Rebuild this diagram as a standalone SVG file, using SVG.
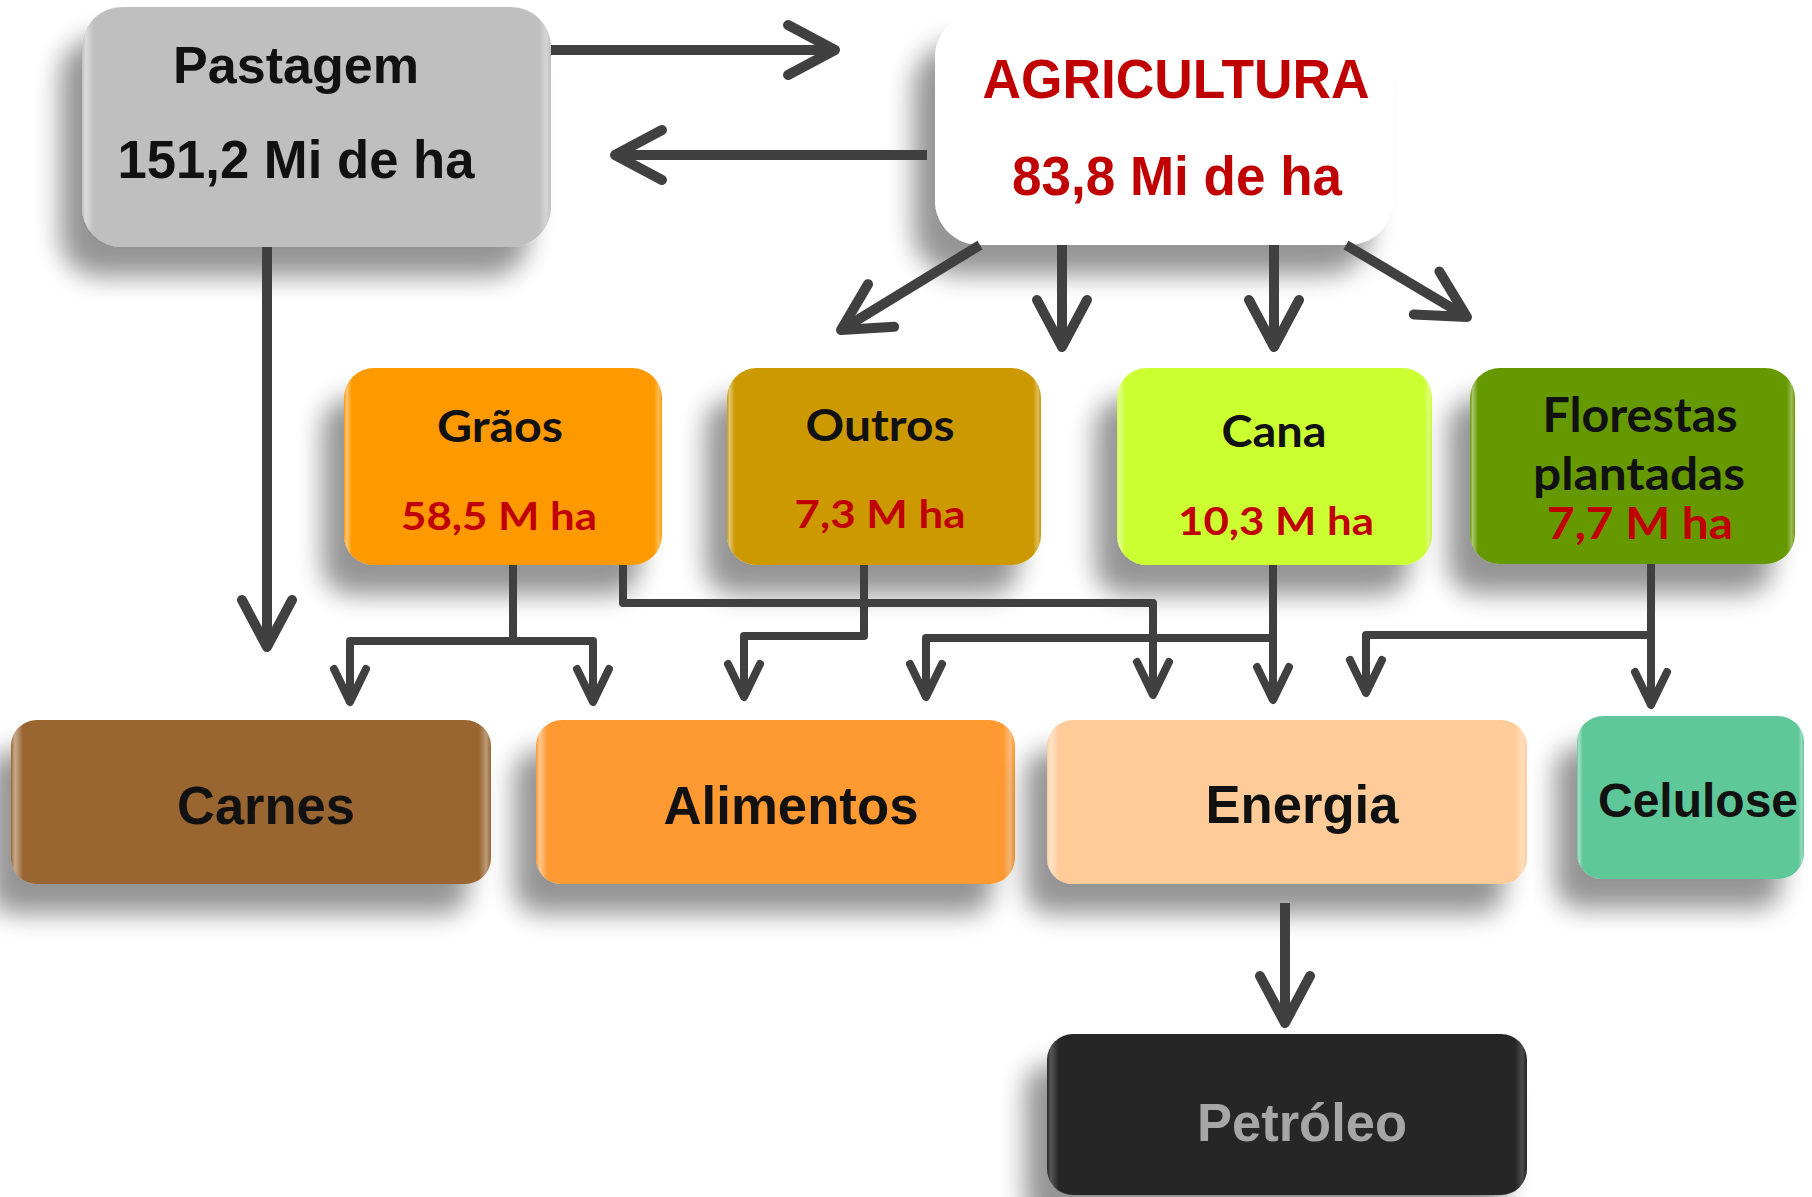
<svg xmlns="http://www.w3.org/2000/svg" width="1812" height="1197" viewBox="0 0 1812 1197">
<style>
.box{stroke:none}
.hl{fill:url(#gloss);stroke:none}
.ar{font-family:"Liberation Sans",Arial,sans-serif;font-weight:bold;text-anchor:middle}
.cb{font-family:Lato,"Open Sans",sans-serif;font-weight:bold;text-anchor:middle}
.blk{fill:#111111}
.red{fill:#C00000}
.c1{fill:none;stroke:#404040;stroke-width:10;stroke-linejoin:round}
.c2{fill:none;stroke:#404040;stroke-width:8;stroke-linejoin:round}
</style>
<defs>
<linearGradient id="gloss" x1="0" y1="0" x2="1" y2="0">
<stop offset="0" stop-color="#ffffff" stop-opacity="0"/>
<stop offset="0.008" stop-color="#ffffff" stop-opacity="0.45"/>
<stop offset="0.025" stop-color="#ffffff" stop-opacity="0"/>
<stop offset="0.975" stop-color="#ffffff" stop-opacity="0"/>
<stop offset="0.99" stop-color="#ffffff" stop-opacity="0.35"/>
<stop offset="1" stop-color="#ffffff" stop-opacity="0"/>
</linearGradient>
<filter id="sh" x="-30%" y="-30%" width="160%" height="180%">
<feGaussianBlur in="SourceAlpha" stdDeviation="13"/>
<feOffset dx="-22" dy="30"/>
<feComponentTransfer><feFuncA type="linear" slope="0.42"/></feComponentTransfer>
<feMerge><feMergeNode/><feMergeNode in="SourceGraphic"/></feMerge>
</filter>
<marker id="ahL" markerUnits="userSpaceOnUse" orient="auto" overflow="visible" refX="0" refY="0" markerWidth="1" markerHeight="1">
<path d="M -47 -25 L 0 0 L -47 25" fill="none" stroke="#404040" stroke-width="10" stroke-linecap="round" stroke-linejoin="round"/>
</marker>
<marker id="ahS" markerUnits="userSpaceOnUse" orient="auto" overflow="visible" refX="0" refY="0" markerWidth="1" markerHeight="1">
<path d="M -33 -16 L 0 0 L -33 16" fill="none" stroke="#404040" stroke-width="8" stroke-linecap="round" stroke-linejoin="round"/>
</marker>
</defs>
<rect x="0" y="0" width="1812" height="1197" fill="#ffffff"/>

<g id="pastagem">
<rect class="box" x="82" y="7" width="469" height="240" rx="40" fill="#BFBFBF" filter="url(#sh)"/>
<rect class="hl" x="82" y="7" width="469" height="240" rx="40"/>
<text class="ar blk" x="296" y="83" font-size="52" textLength="246" lengthAdjust="spacingAndGlyphs">Pastagem</text>
<text class="ar blk" x="296" y="178" font-size="53" textLength="357" lengthAdjust="spacingAndGlyphs">151,2 Mi de ha</text>
</g>

<g id="agricultura">
<rect class="box" x="935" y="13" width="458" height="232" rx="45" fill="#ffffff" filter="url(#sh)"/>
<text class="ar red" x="1176" y="98" font-size="56" textLength="387" lengthAdjust="spacingAndGlyphs">AGRICULTURA</text>
<text class="ar red" x="1177" y="195" font-size="56" textLength="330" lengthAdjust="spacingAndGlyphs">83,8 Mi de ha</text>
</g>

<g id="graos">
<rect class="box" x="344" y="368" width="318" height="197" rx="30" fill="#FF9900" filter="url(#sh)"/>
<rect class="hl" x="344" y="368" width="318" height="197" rx="30"/>
<text class="cb blk" x="500" y="442" font-size="44" textLength="126" lengthAdjust="spacingAndGlyphs">Grãos</text>
<text class="cb red" x="499" y="530" font-size="39" textLength="196" lengthAdjust="spacingAndGlyphs">58,5 M ha</text>
</g>

<g id="outros">
<rect class="box" x="727" y="368" width="314" height="197" rx="30" fill="#CC9900" filter="url(#sh)"/>
<rect class="hl" x="727" y="368" width="314" height="197" rx="30"/>
<text class="cb blk" x="880" y="441" font-size="44" textLength="149" lengthAdjust="spacingAndGlyphs">Outros</text>
<text class="cb red" x="880" y="528" font-size="39" textLength="171" lengthAdjust="spacingAndGlyphs">7,3 M ha</text>
</g>

<g id="cana">
<rect class="box" x="1117" y="368" width="315" height="197" rx="30" fill="#CCFF33" filter="url(#sh)"/>
<rect class="hl" x="1117" y="368" width="315" height="197" rx="30"/>
<text class="cb blk" x="1274" y="447" font-size="44" textLength="105" lengthAdjust="spacingAndGlyphs">Cana</text>
<text class="cb red" x="1276" y="535" font-size="39" textLength="196" lengthAdjust="spacingAndGlyphs">10,3 M ha</text>
</g>

<g id="florestas">
<rect class="box" x="1470" y="368" width="325" height="196" rx="30" fill="#669900" filter="url(#sh)"/>
<rect class="hl" x="1470" y="368" width="325" height="196" rx="30"/>
<text class="cb blk" x="1640" y="432" font-size="47" textLength="195" lengthAdjust="spacingAndGlyphs">Florestas</text>
<text class="cb blk" x="1639" y="490" font-size="46" textLength="212" lengthAdjust="spacingAndGlyphs">plantadas</text>
<text class="cb red" x="1640" y="539" font-size="44" textLength="186" lengthAdjust="spacingAndGlyphs">7,7 M ha</text>
</g>

<g id="carnes">
<rect class="box" x="11" y="720" width="480" height="164" rx="26" fill="#996633" filter="url(#sh)"/>
<rect class="hl" x="11" y="720" width="480" height="164" rx="26"/>
<text class="ar blk" x="266" y="824" font-size="54" textLength="178" lengthAdjust="spacingAndGlyphs">Carnes</text>
</g>

<g id="alimentos">
<rect class="box" x="536" y="720" width="479" height="164" rx="26" fill="#FF9933" filter="url(#sh)"/>
<rect class="hl" x="536" y="720" width="479" height="164" rx="26"/>
<text class="ar blk" x="791" y="824" font-size="54" textLength="255" lengthAdjust="spacingAndGlyphs">Alimentos</text>
</g>

<g id="energia">
<rect class="box" x="1047" y="720" width="480" height="164" rx="26" fill="#FFCC99" filter="url(#sh)"/>
<rect class="hl" x="1047" y="720" width="480" height="164" rx="26"/>
<text class="ar blk" x="1302" y="823" font-size="54" textLength="193" lengthAdjust="spacingAndGlyphs">Energia</text>
</g>

<g id="celulose">
<rect class="box" x="1577" y="716" width="227" height="163" rx="26" fill="#5FC89A" filter="url(#sh)"/>
<rect class="hl" x="1577" y="716" width="227" height="163" rx="26"/>
<text class="ar blk" x="1698" y="817" font-size="48" textLength="200" lengthAdjust="spacingAndGlyphs">Celulose</text>
</g>

<g id="petroleo">
<rect class="box" x="1047" y="1034" width="480" height="161" rx="26" fill="#282828" filter="url(#sh)"/>
<rect class="hl" x="1047" y="1034" width="480" height="161" rx="26" opacity="0.5"/>
<text class="ar" x="1302" y="1141" font-size="53" fill="#A6A6A6" textLength="210" lengthAdjust="spacingAndGlyphs">Petróleo</text>
</g>

<g id="connectors">
<path class="c1" d="M 551 50 H 835" marker-end="url(#ahL)"/>
<path class="c1" d="M 927 155 H 615" marker-end="url(#ahL)"/>
<path class="c1" d="M 267 247 V 647" marker-end="url(#ahL)"/>
<path class="c1" d="M 980 245 L 841 330" marker-end="url(#ahL)"/>
<path class="c1" d="M 1062 245 V 347" marker-end="url(#ahL)"/>
<path class="c1" d="M 1274 245 V 347" marker-end="url(#ahL)"/>
<path class="c1" d="M 1346 245 L 1467 317" marker-end="url(#ahL)"/>
<path class="c2" d="M 513 565 V 641 H 350 V 702" marker-end="url(#ahS)"/>
<path class="c2" d="M 513 641 H 593 V 702" marker-end="url(#ahS)"/>
<path class="c2" d="M 623 565 V 603 H 1153 V 695" marker-end="url(#ahS)"/>
<path class="c2" d="M 864 565 V 636 H 744 V 697" marker-end="url(#ahS)"/>
<path class="c2" d="M 1273 565 V 700" marker-end="url(#ahS)"/>
<path class="c2" d="M 1273 638 H 926 V 697" marker-end="url(#ahS)"/>
<path class="c2" d="M 1651 564 V 705" marker-end="url(#ahS)"/>
<path class="c2" d="M 1651 635 H 1366 V 693" marker-end="url(#ahS)"/>
<path class="c1" d="M 1285 903 V 1023" marker-end="url(#ahL)"/>
</g>
</svg>
